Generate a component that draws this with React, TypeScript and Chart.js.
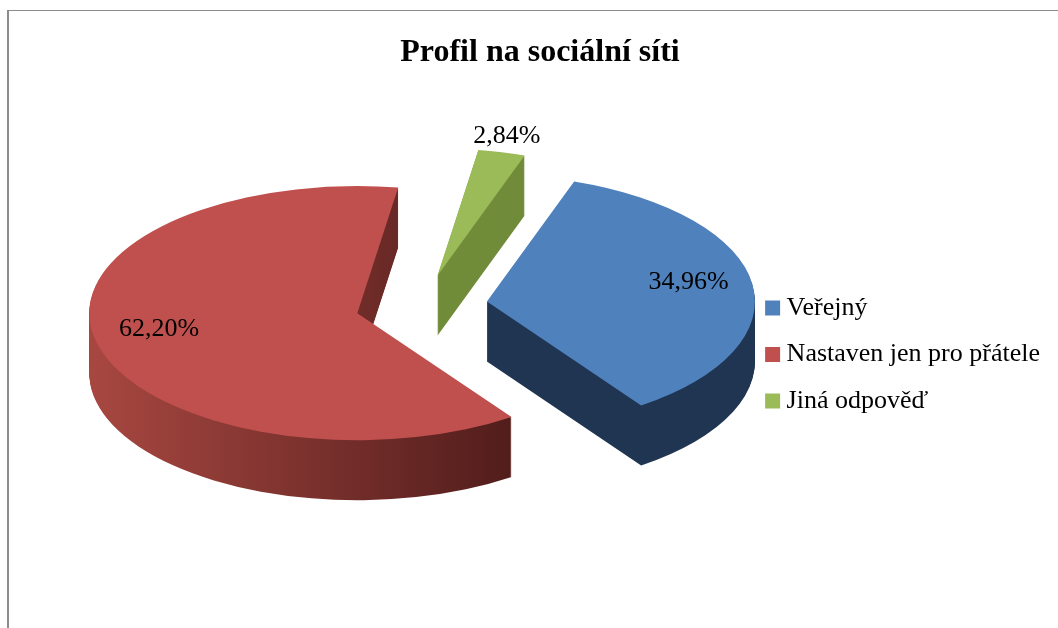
import React, { useEffect, useRef } from 'react';
import { Chart, registerables, layouts } from 'chart.js';

Chart.register(...registerables);

// ---- data ----
const chartTitle = 'Profil na sociální síti';
const categories = ['Veřejný', 'Nastaven jen pro přátele', 'Jiná odpověď'];
const values = [34.96, 62.2, 2.84];

// ---- styles ----
const topColors = ['#4F81BD', '#C0504D', '#9BBB59'];
const sideStops: string[][] = [
  ['#1F3552', '#1F3552'],
  ['#A84741', '#3A1211'],
  ['#77933C', '#6C8637'],
];
const FONT = "'Liberation Serif', 'Times New Roman', serif";
const TILT = 0.474; // vertical squash of the pie
const DEPTH = 60; // thickness in px
const EXPLODE = 66; // slice explosion in px
const START_ROTATION = 19;

function drawArc(el: any, ctx: CanvasRenderingContext2D, fill: any) {
  const orig = el.options;
  const o = Object.create(orig);
  o.backgroundColor = fill;
  o.borderWidth = 0;
  o.offset = 0;
  el.options = o;
  el.draw(ctx);
  el.options = orig;
}

// empty layout box on the left of the chart area (does not affect the full-width title)
const leftGap = {
  id: 'leftGap',
  beforeInit(chart: any, _args: any, opts: any) {
    const box: any = {
      position: 'left',
      fullSize: false,
      weight: 0,
      options: { display: false },
      left: 0,
      top: 0,
      right: 0,
      bottom: 0,
      width: 0,
      height: 0,
      isHorizontal: () => false,
      update(_maxWidth: number, maxHeight: number) {
        box.width = opts.size || 0;
        box.height = maxHeight;
      },
      draw() {},
    };
    layouts.addBox(chart, box);
  },
};

const pie3d = {
  id: 'pie3d',
  beforeDatasetDraw(chart: any, args: any) {
    const ctx: CanvasRenderingContext2D = chart.ctx;
    const arcs = args.meta.data;
    if (!arcs.length) return;
    const cx = arcs[0].x;
    const cy = arcs[0].y;
    const place = (el: any, dy: number) => {
      const mid = (el.startAngle + el.endAngle) / 2;
      ctx.translate(0, dy);
      ctx.translate(cx, cy);
      ctx.scale(1, TILT);
      ctx.translate(-cx, -cy);
      ctx.translate(Math.cos(mid) * EXPLODE, Math.sin(mid) * EXPLODE);
    };
    for (let d = DEPTH; d >= 1; d--) {
      arcs.forEach((el: any, i: number) => {
        ctx.save();
        place(el, d);
        const g = ctx.createLinearGradient(el.x - el.outerRadius, 0, el.x + el.outerRadius, 0);
        g.addColorStop(0, sideStops[i][0]);
        g.addColorStop(1, sideStops[i][1]);
        drawArc(el, ctx, g);
        ctx.restore();
      });
    }
    arcs.forEach((el: any, i: number) => {
      ctx.save();
      place(el, 0);
      drawArc(el, ctx, topColors[i]);
      ctx.restore();
    });
    return false;
  },
  afterDatasetsDraw(chart: any) {
    const ctx: CanvasRenderingContext2D = chart.ctx;
    const meta = chart.getDatasetMeta(0);
    const arcs = meta.data;
    if (!arcs.length) return;
    const cx = arcs[0].x;
    const cy = arcs[0].y;
    const total = values.reduce((a, b) => a + b, 0);
    ctx.save();
    ctx.font = `26px ${FONT}`;
    ctx.fillStyle = '#000';
    ctx.textAlign = 'center';
    ctx.textBaseline = 'middle';
    arcs.forEach((el: any, i: number) => {
      const share = values[i] / total;
      const mid = (el.startAngle + el.endAngle) / 2;
      const r = el.outerRadius * (share < 0.05 ? 1.08 : 0.76) + EXPLODE;
      const x = cx + Math.cos(mid) * r;
      const y = cy + Math.sin(mid) * r * TILT - 6;
      ctx.fillText(values[i].toFixed(2).replace('.', ',') + '%', x, y);
    });
    ctx.restore();
  },
};

export default function App() {
  const ref = useRef<HTMLCanvasElement | null>(null);
  useEffect(() => {
    if (!ref.current) return;
    const chart = new Chart(ref.current, {
      type: 'pie',
      data: {
        labels: categories,
        datasets: [
          {
            data: values,
            backgroundColor: topColors,
            borderWidth: 0,
            radius: 268,
            rotation: START_ROTATION,
            clip: false,
          } as any,
        ],
      },
      options: {
        responsive: false,
        animation: false,
        events: [],
        devicePixelRatio: 1,
        layout: { padding: { left: 30, right: 8, top: 0, bottom: 193.5 } },
        plugins: {
          leftGap: { size: 62 },
          title: {
            display: true,
            text: chartTitle,
            color: '#000',
            font: { family: FONT, size: 32, weight: 'bold' },
            padding: { top: 34, bottom: 105.1 },
          },
          legend: {
            display: true,
            position: 'right',
            align: 'end',
            labels: {
              color: '#000',
              font: { family: FONT, size: 26 },
              usePointStyle: true,
              pointStyle: 'rect',
              boxWidth: 2,
              boxHeight: 15,
              padding: 20.5,
            },
          },
          tooltip: { enabled: false },
        },
      } as any,
      plugins: [leftGap, pie3d],
    });
    return () => chart.destroy();
  }, []);
  return (
    <div>
      <div
        style={{
          position: 'absolute',
          left: 7,
          top: 10,
          width: 1051,
          height: 618,
          boxSizing: 'border-box',
          borderLeft: '2px solid #8c8c8c',
          borderTop: '1px solid #8c8c8c',
        }}
      />
      <canvas
        ref={ref}
        width={1058}
        height={628}
        style={{ position: 'absolute', left: 0, top: 0, width: 1058, height: 628 }}
      />
    </div>
  );
}
